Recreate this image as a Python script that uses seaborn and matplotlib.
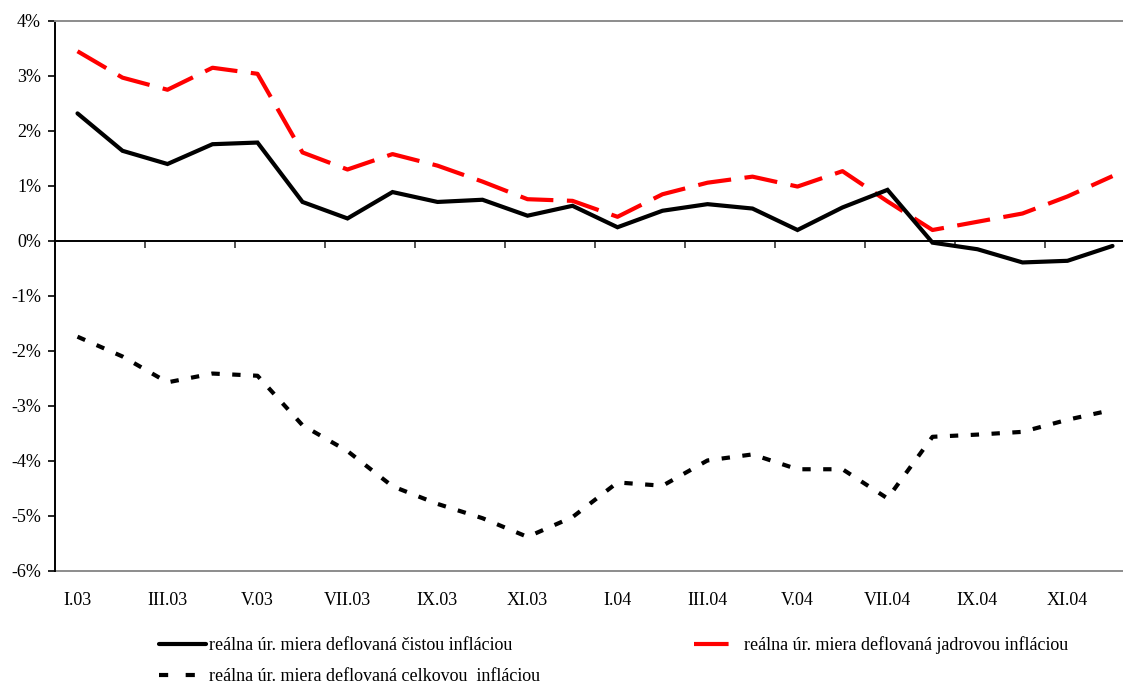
import matplotlib
matplotlib.use("Agg")
import matplotlib.pyplot as plt
import seaborn as sns
import numpy as np
import pandas as pd
from matplotlib.lines import Line2D
from matplotlib.ticker import FixedLocator, FuncFormatter

# Monthly categories, Jan 2003 - Dec 2004
months = ["I.03", "II.03", "III.03", "IV.03", "V.03", "VI.03", "VII.03", "VIII.03",
          "IX.03", "X.03", "XI.03", "XII.03", "I.04", "II.04", "III.04", "IV.04",
          "V.04", "VI.04", "VII.04", "VIII.04", "IX.04", "X.04", "XI.04", "XII.04"]

# Real interest rate deflated by net inflation (%)
net_infl = [2.32, 1.64, 1.40, 1.76, 1.79, 0.71, 0.41, 0.89, 0.71, 0.75, 0.46, 0.64,
            0.25, 0.55, 0.67, 0.59, 0.20, 0.61, 0.93, -0.03, -0.15, -0.39, -0.36, -0.09]

# Real interest rate deflated by core inflation (%)
core_infl = [3.45, 2.97, 2.75, 3.15, 3.04, 1.61, 1.30, 1.58, 1.37, 1.08, 0.76, 0.73,
             0.44, 0.85, 1.06, 1.17, 0.99, 1.27, 0.72, 0.20, 0.35, 0.50, 0.81, 1.18]

# Real interest rate deflated by headline inflation (%)
total_infl = [-1.74, -2.10, -2.57, -2.41, -2.45, -3.35, -3.82, -4.46, -4.78, -5.04,
              -5.38, -5.02, -4.39, -4.45, -3.99, -3.88, -4.15, -4.15, -4.68, -3.56,
              -3.52, -3.47, -3.25, -3.07]

label_net = "reálna úr. miera deflovaná čistou infláciou"
label_core = "reálna úr. miera deflovaná jadrovou infláciou"
label_total = "reálna úr. miera deflovaná celkovou  infláciou"

sns.set_style("white")
plt.rcParams["font.family"] = ["Liberation Serif", "DejaVu Serif"]
plt.rcParams["font.size"] = 13
plt.rcParams["text.color"] = "black"
plt.rcParams["xtick.color"] = "black"
plt.rcParams["ytick.color"] = "black"
plt.rcParams["xtick.labelcolor"] = "black"
plt.rcParams["ytick.labelcolor"] = "black"

df = pd.DataFrame({"pos": np.arange(len(months)), "month": months,
                   "net": net_infl, "core": core_infl, "total": total_infl})

fig = plt.figure(figsize=(11.23, 6.84), dpi=100)
W, H = 1123, 684
ax = fig.add_axes([55 / W, 1 - 571 / H, 1080 / W, 550 / H])

LW = 3.0
sns.lineplot(data=df, x="pos", y="core", ax=ax, color="#ff0000", lw=LW,
             linestyle=(0, (8, 3.25)), dash_capstyle="butt")
sns.lineplot(data=df, x="pos", y="net", ax=ax, color="black", lw=LW,
             solid_joinstyle="miter")
sns.lineplot(data=df, x="pos", y="total", ax=ax, color="black", lw=LW,
             linestyle=(0, (2, 3)), dash_capstyle="butt")

ax.set_xlim(-0.5, len(months) - 0.5)
ax.set_ylim(-6, 4)
ax.set_xlabel("")
ax.set_ylabel("")

# y axis: percent ticks pointing outwards
ax.yaxis.set_major_locator(FixedLocator(np.arange(-6, 5, 1)))
ax.yaxis.set_major_formatter(FuncFormatter(lambda v, p: f"{v:.0f}%"))
ax.tick_params(axis="y", which="major", direction="out", length=5, width=1.2,
               color="black", pad=5, left=True, labelsize=13)

# category axis runs along zero with tick marks every second boundary
ax.spines["bottom"].set_position(("data", 0))
ax.spines["bottom"].set_color("black")
ax.spines["bottom"].set_linewidth(1.4)
ax.xaxis.set_major_locator(FixedLocator(np.arange(1.5, len(months) - 1, 2)))
ax.xaxis.set_major_formatter(FuncFormatter(lambda v, p: ""))
ax.tick_params(axis="x", which="major", direction="out", length=5, width=1.2,
               color="#333333", bottom=True)

ax.spines["left"].set_color("black")
ax.spines["left"].set_linewidth(1.4)
ax.spines["top"].set_color("#8c8c8c")
ax.spines["top"].set_linewidth(1.4)
ax.spines["right"].set_visible(False)

# month labels at the bottom of the plot area
sec = ax.secondary_xaxis(0)
sec.set_xticks(np.arange(0, len(months), 2))
sec.set_xticklabels(months[::2])
sec.tick_params(axis="x", length=0, pad=15, labelsize=13, labelcolor="black")
sec.spines["bottom"].set_color("#8c8c8c")
sec.spines["bottom"].set_linewidth(1.4)

handles = [
    Line2D([], [], color="black", lw=LW, solid_capstyle="round"),
    Line2D([], [], color="black", lw=LW, linestyle=(0, (2.2, 4.2)), dash_capstyle="butt"),
    Line2D([], [], color="#ff0000", lw=LW, linestyle=(0, (8.3, 40))),
]
fig.legend(handles, [label_net, label_total, label_core], ncol=2, frameon=False,
           loc="upper left", bbox_to_anchor=(150 / W, 1 - 627 / H),
           borderpad=0, handlelength=2.6, handletextpad=0.15, columnspacing=8.55,
           labelspacing=0.8, fontsize=13)

fig.savefig("out.png", dpi=100)
